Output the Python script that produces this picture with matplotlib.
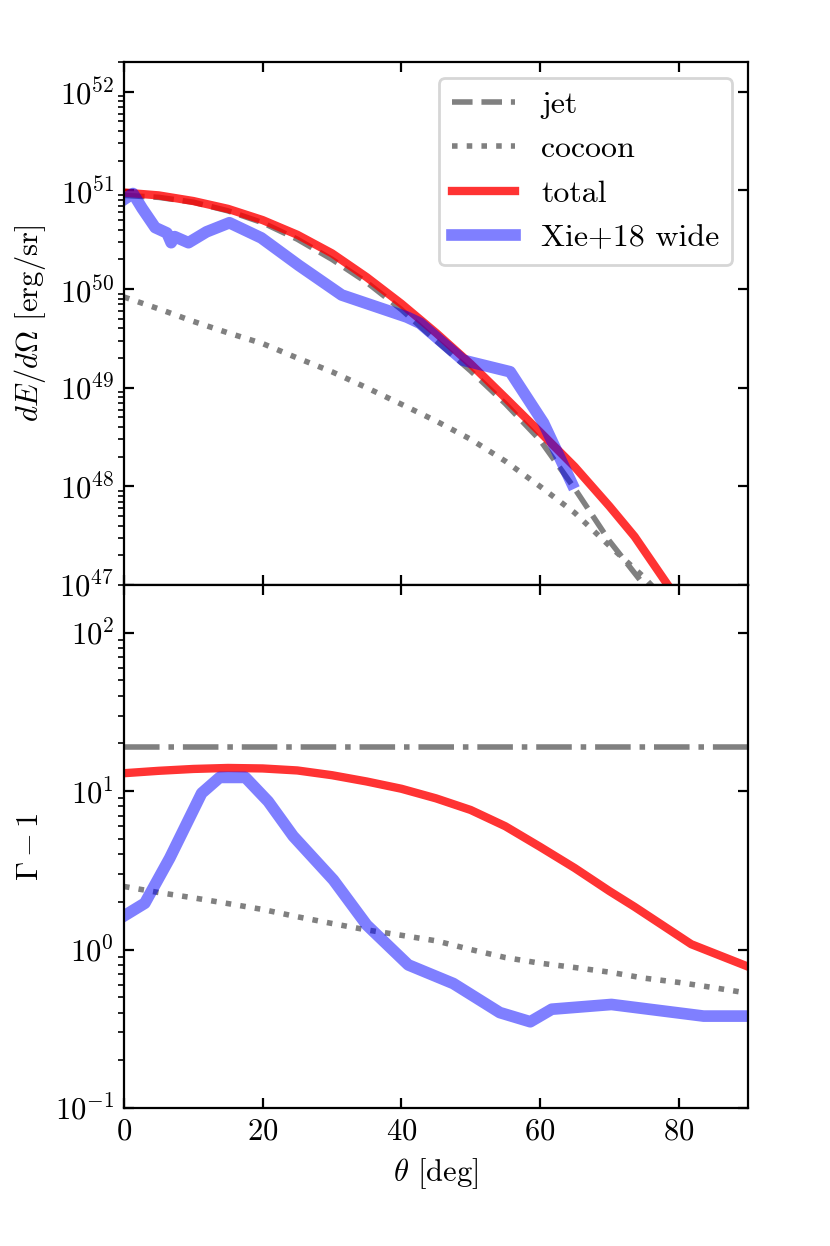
import numpy as np
import matplotlib
matplotlib.use("Agg")
import matplotlib.pyplot as plt

plt.rcParams['font.family'] = ['serif']
plt.rcParams['font.serif'] = ['cmr10', 'DejaVu Serif']
plt.rcParams['mathtext.fontset'] = 'cm'
plt.rcParams['axes.formatter.use_mathtext'] = True
plt.rcParams['axes.unicode_minus'] = False
plt.rcParams['font.size'] = 11

# ---------------- data ----------------
theta_5 = [0, 5, 10, 15, 20, 25, 30, 35, 40, 45, 50, 55, 60, 65, 70, 75, 80, 85, 90]
theta_tot = [0, 5, 10, 15, 20, 25, 30, 35, 40, 45, 50, 55, 60, 65, 70, 73.64, 81.82, 90]

# top panel: dE/dOmega [erg/sr]
E_jet = [8.9e50, 8.5e50, 7.6e50, 6.2e50, 4.7e50, 3.2e50, 2.0e50, 1.17e50, 6.2e49, 3.0e49,
         1.48e49, 6.9e48, 2.95e48, 9.5e47, 2.8e47, 1.0e47, 3.2e46, 1.0e46, 2.5e45]
E_cocoon = [8.3e49, 6.3e49, 4.7e49, 3.6e49, 2.8e49, 2.0e49, 1.45e49, 1.0e49, 6.8e48, 4.6e48,
            3.0e48, 1.8e48, 1.0e48, 5.4e47, 2.5e47, 1.2e47, 5.0e46, 2.0e46, 8.0e45]
E_total = [9.5e50, 8.9e50, 7.8e50, 6.5e50, 5.0e50, 3.55e50, 2.3e50, 1.32e50, 7.1e49, 3.6e49,
           1.74e49, 7.9e48, 3.55e48, 1.58e48, 6.3e47, 3.1e47, 4.5e46, 5.0e45]
theta_xie_E = [0, 1.3, 2.6, 4.5, 6.2, 6.8, 7.3, 9.3, 11.9, 15.2, 19.8, 25.2, 31.4, 40.8,
               42.7, 48.9, 55.7, 60.5, 64.6]
E_xie = [8.1e50, 9.3e50, 6.6e50, 4.2e50, 3.7e50, 2.95e50, 3.4e50, 2.95e50, 3.8e50, 4.7e50,
         3.3e50, 1.74e50, 8.7e49, 5.2e49, 4.5e49, 1.9e49, 1.45e49, 4.4e48, 1.07e48]

# bottom panel: Gamma - 1
G_jet = [19.0] * len(theta_5)
G_cocoon = [2.5, 2.29, 2.12, 1.95, 1.79, 1.61, 1.46, 1.33, 1.23, 1.135, 1.0, 0.89, 0.82,
            0.77, 0.72, 0.66, 0.62, 0.575, 0.53]
G_total = [12.97, 13.43, 13.8, 14.0, 13.9, 13.5, 12.6, 11.5, 10.35, 9.0, 7.6, 6.0, 4.45,
           3.27, 2.34, 1.86, 1.08, 0.78]
theta_xie_G = [0.3, 3.0, 6.6, 11.2, 13.8, 17.5, 20.8, 24.4, 30.2, 35.0, 41.0, 47.5, 54.2,
               58.6, 61.7, 70.3, 83.6, 90]
G_xie = [1.66, 1.96, 3.78, 9.7, 12.2, 12.2, 8.6, 5.2, 2.75, 1.43, 0.80, 0.61, 0.40, 0.35,
         0.42, 0.45, 0.38, 0.38]

xticks = [0, 20, 40, 60, 80]

# ---------------- plot ----------------
fig, (ax1, ax2) = plt.subplots(2, 1, sharex=True, figsize=(4.15, 6.23), dpi=200)
fig.subplots_adjust(left=0.1494, right=0.9012, top=0.9502, bottom=0.1108, hspace=0)

ax1.plot(theta_5, E_jet, ls='--', color='gray', lw=2, label='jet')
ax1.plot(theta_5, E_cocoon, ls=':', color='gray', lw=2, label='cocoon')
ax1.plot(theta_tot, E_total, ls='-', color='red', alpha=0.8, lw=3, label='total')
ax1.plot(theta_xie_E, E_xie, ls='-', color='blue', alpha=0.5, lw=4.2, label='Xie+18 wide')
ax1.set_yscale('log')
ax1.set_ylim(1e47, 2e52)
ax1.set_ylabel(r'$dE/d\Omega$ [erg/sr]')
ax1.legend(loc='upper right', fontsize=11.5)

ax2.plot(theta_5, G_jet, ls='-.', color='gray', lw=2)
ax2.plot(theta_5, G_cocoon, ls=':', color='gray', lw=2)
ax2.plot(theta_tot, G_total, ls='-', color='red', alpha=0.8, lw=3)
ax2.plot(theta_xie_G, G_xie, ls='-', color='blue', alpha=0.5, lw=4.2)
ax2.set_yscale('log')
ax2.set_ylim(0.1, 200)
ax2.set_ylabel(r'$\Gamma-1$')
ax2.set_xlabel(r'$\theta$ [deg]')
ax2.set_xlim(0, 90)
ax2.set_xticks(xticks)

for ax in (ax1, ax2):
    ax.tick_params(which='major', direction='in', top=True, right=True)

fig.savefig('out.png', dpi=200)
